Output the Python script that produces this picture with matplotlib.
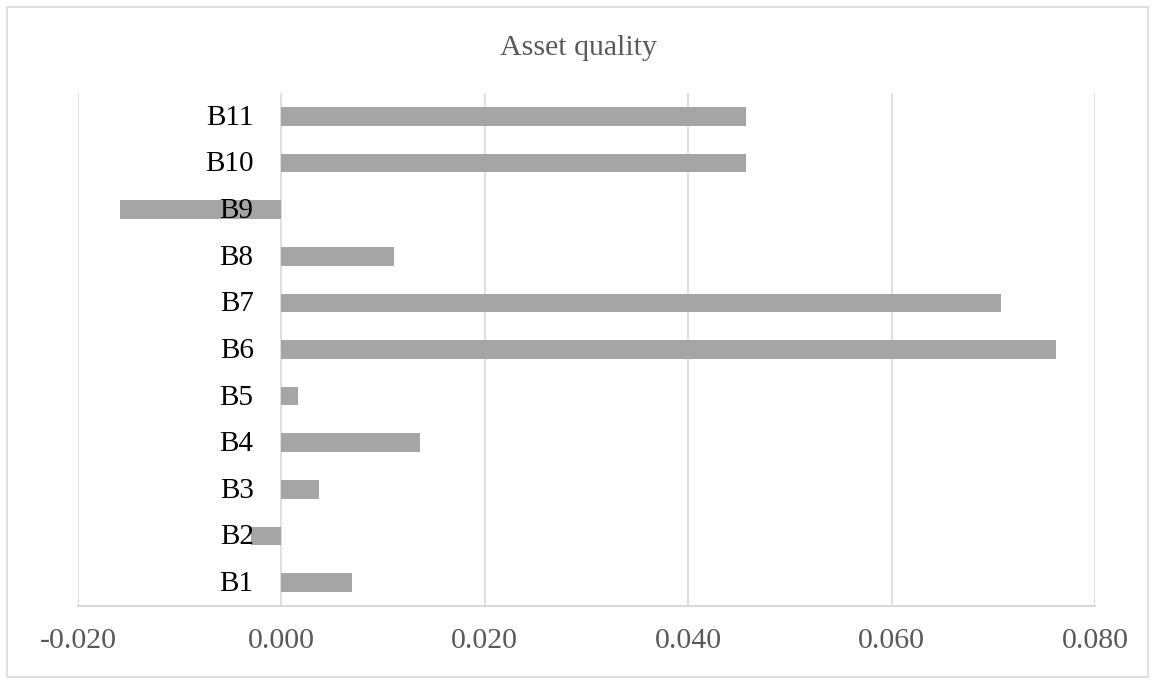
import matplotlib
matplotlib.use("Agg")
import matplotlib.pyplot as plt
import matplotlib.transforms as mtransforms
from matplotlib.patches import Rectangle

# Data
banks = ["B1", "B2", "B3", "B4", "B5", "B6", "B7", "B8", "B9", "B10", "B11"]
asset_quality = [0.0069, -0.0030, 0.0037, 0.0136, 0.0016, 0.0762, 0.0708, 0.0111, -0.0159, 0.0457, 0.0457]
x_ticks = [-0.020, 0.000, 0.020, 0.040, 0.060, 0.080]
x_tick_labels = ["-0.020", "0.000", "0.020", "0.040", "0.060", "0.080"]
title = "Asset quality"

serif = ["Liberation Serif", "DejaVu Serif"]
plt.rcParams["font.family"] = serif

fig = plt.figure(figsize=(11.56, 6.80), dpi=100)
ax = fig.add_axes([78 / 1156, 1 - 606 / 680, (1095 - 78) / 1156, (606 - 93) / 680])

positions = list(range(len(banks)))
ax.barh(positions, asset_quality, height=0.4, color="#A5A5A5", zorder=2)

ax.set_xlim(x_ticks[0], x_ticks[-1])
ax.set_ylim(-0.5, len(banks) - 0.5)
ax.set_xticks(x_ticks)
ax.set_xticklabels(x_tick_labels)
ax.set_yticks([])
ax.tick_params(axis="x", length=0, pad=16, labelsize=21.5, labelcolor="#595959")

ax.grid(axis="x", color="#D9D9D9", linewidth=1.2, zorder=0)
for side in ("top", "right", "left"):
    ax.spines[side].set_visible(False)
ax.spines["bottom"].set_color("#D9D9D9")
ax.spines["bottom"].set_linewidth(1.5)

# Category labels sit next to the zero line
offset = mtransforms.ScaledTranslation(-20 / 72, -1 / 72, fig.dpi_scale_trans)
trans = ax.transData + offset
for pos, name in zip(positions, banks):
    ax.text(0, pos, name, transform=trans, ha="right", va="center",
            fontsize=21, color="#000000", zorder=3)

fig.text(0.5, 1 - 48 / 680, title, ha="center", va="center",
         fontsize=21.5, color="#595959")

# Light frame around the chart area
fig.patches.append(Rectangle((7 / 1156, 1 - 677 / 680), (1148 - 7) / 1156, (677 - 7) / 680,
                             transform=fig.transFigure, fill=False,
                             edgecolor="#D9D9D9", linewidth=1.2))

fig.savefig("out.png", dpi=100, facecolor="white")
